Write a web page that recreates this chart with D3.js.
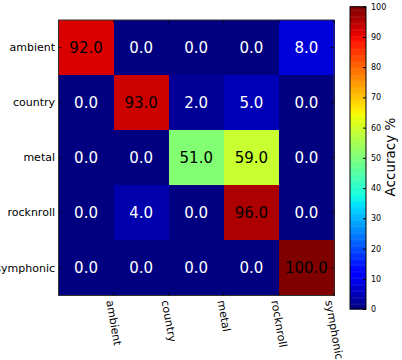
<!DOCTYPE html>
<html><head><meta charset="utf-8">
<script src="https://cdn.jsdelivr.net/npm/d3@7"></script>
<style>
html,body{margin:0;padding:0;background:#fff;}
text{font-family:"DejaVu Sans",sans-serif;}
</style></head>
<body><svg id="c" width="402" height="360"></svg>
<script>
const genres = ["ambient","country","metal","rocknroll","symphonic"];
const rowAmbient   = [92, 0, 0, 0, 8];
const rowCountry   = [0, 93, 2, 5, 0];
const rowMetal     = [0, 0, 51, 59, 0];
const rowRocknroll = [0, 4, 0, 96, 0];
const rowSymphonic = [0, 0, 0, 0, 100];
const colorbarTicks = [0,10,20,30,40,50,60,70,80,90,100];
const colorbarLabel = "Accuracy %";

const matrix = [rowAmbient,rowCountry,rowMetal,rowRocknroll,rowSymphonic];

// matplotlib jet colormap
const jetR=[[0,0],[0.35,0],[0.66,1],[0.89,1],[1,0.5]];
const jetG=[[0,0],[0.125,0],[0.375,1],[0.64,1],[0.91,0],[1,0]];
const jetB=[[0,0.5],[0.11,1],[0.34,1],[0.65,0],[1,0]];
function seg(p,t){for(let i=1;i<p.length;i++){if(t<=p[i][0]){const a=p[i-1],b=p[i];return a[1]+(b[1]-a[1])*(t-a[0])/(b[0]-a[0]);}}return p[p.length-1][1];}
function jet(t){t=Math.max(0,Math.min(1,t));const idx=Math.min(255,Math.floor(t*256));const u=idx/255;
  return d3.rgb(Math.round(seg(jetR,u)*255),Math.round(seg(jetG,u)*255),Math.round(seg(jetB,u)*255)).toString();}
const color=d3.scaleSequential(v=>jet(v)).domain([0,100]);

const svg=d3.select("#c");
const L=58.5,T=20,R=334,B=295.5;
const x=d3.scaleBand().domain(d3.range(5)).range([L,R]).padding(0);
const y=d3.scaleBand().domain(d3.range(5)).range([T,B]).padding(0);

const cells=[];
matrix.forEach((row,i)=>row.forEach((v,j)=>cells.push({i,j,v})));
svg.append("g").attr("shape-rendering","crispEdges").selectAll("rect").data(cells).join("rect")
  .attr("x",d=>x(d.j)).attr("y",d=>y(d.i))
  .attr("width",x.bandwidth()+0.5).attr("height",y.bandwidth()+0.5)
  .attr("fill",d=>color(d.v));
svg.append("g").selectAll("text").data(cells).join("text")
  .attr("x",d=>x(d.j)+x.bandwidth()/2).attr("y",d=>y(d.i)+y.bandwidth()/2)
  .attr("dy","0.36em").attr("text-anchor","middle").attr("font-size","15px")
  .attr("fill",d=>d.v>50?"#000":"#fff").text(d=>d.v.toFixed(1));

// frame
svg.append("rect").attr("x",L).attr("y",T).attr("width",R-L).attr("height",B-T)
  .attr("fill","none").attr("stroke","#333").attr("stroke-width",1);

// y ticks (row centers) inward, left and right
const tg=svg.append("g").attr("stroke","#000").attr("stroke-width",0.8);
d3.range(5).forEach(i=>{
  const cy=y(i)+y.bandwidth()/2;
  tg.append("line").attr("x1",L).attr("x2",L+3).attr("y1",cy).attr("y2",cy);
  tg.append("line").attr("x1",R-3).attr("x2",R).attr("y1",cy).attr("y2",cy);
});
// x ticks at right boundaries of columns
d3.range(5).forEach(j=>{
  const bx=x(j)+x.bandwidth();
  tg.append("line").attr("x1",bx).attr("x2",bx).attr("y1",B).attr("y2",B-3);
  tg.append("line").attr("x1",bx).attr("x2",bx).attr("y1",T).attr("y2",T+3);
});

// y labels
svg.append("g").selectAll("text").data(genres).join("text")
  .attr("x",L-3.5).attr("y",(d,i)=>y(i)+y.bandwidth()/2).attr("dy","0.33em")
  .attr("text-anchor","end").attr("font-size","11px").attr("fill","#000").text(d=>d);

// x labels rotated 80deg, bbox centered on right boundary tick
const ang=80, rad=ang*Math.PI/180;
svg.append("g").selectAll("text").data(genres).join("text")
  .attr("font-size","11px").attr("fill","#000").attr("dy","0.32em").text(d=>d)
  .each(function(d,j){
    const len=this.getComputedTextLength();
    const bx=x(j)+x.bandwidth()-0.5*len*Math.cos(rad);
    d3.select(this).attr("transform",`translate(${bx},${B+5}) rotate(${ang})`);
  });

// colorbar
const cbL=350,cbW=16,cbT=6.7,cbB=309;
const cy=d3.scaleLinear().domain([0,100]).range([cbB,cbT]);
const steps=d3.range(0,256);
svg.append("g").selectAll("rect").data(steps).join("rect")
  .attr("x",cbL).attr("width",cbW)
  .attr("y",d=>cy((d+1)/256*100)).attr("height",d=>cy(d/256*100)-cy((d+1)/256*100)+0.5)
  .attr("fill",d=>color((d+0.5)/256*100));
svg.append("rect").attr("x",cbL).attr("y",cbT).attr("width",cbW).attr("height",cbB-cbT)
  .attr("fill","none").attr("stroke","#000").attr("stroke-width",1);
const cax=d3.axisRight(cy).tickValues(colorbarTicks).tickSize(-3).tickPadding(5).tickFormat(d3.format("d"));
const cg=svg.append("g").attr("transform",`translate(${cbL+cbW},0)`).call(cax);
cg.select(".domain").remove();
cg.selectAll("text").attr("font-size","8px").attr("font-family","DejaVu Sans, sans-serif").attr("fill","#000");
cg.selectAll("line").attr("stroke","#000");

svg.append("text").attr("transform",`translate(395,157) rotate(-90)`)
  .attr("text-anchor","middle").attr("font-size","13.5px").attr("fill","#000").text(colorbarLabel);
</script></body></html>
